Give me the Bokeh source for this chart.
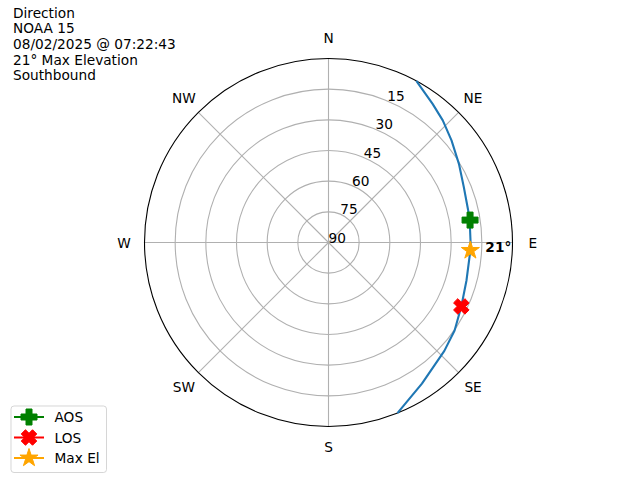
import numpy as np
from bokeh.plotting import figure
from bokeh.models import Range1d, Quad
from bokeh.embed import file_html
from bokeh.resources import INLINE
from bokeh.core.properties import value

# ---------------- data (azimuth deg clockwise from N, elevation deg) -------------
track_az = [28.5, 36.9, 43.1, 50.3, 58.9, 67.8, 77.1, 81.0, 90.0, 93.2, 105.4, 115.7, 124.9, 133.1, 146.5, 158.0]
track_el = [0.0, 5.2, 8.2, 11.8, 15.5, 18.5, 19.9, 20.1, 20.5, 20.5, 20.0, 17.9, 14.8, 12.4, 7.2, 0.0]

aos_az = [81.0]
aos_el = [19.9]
los_az = [115.7]
los_el = [17.9]
max_az = [93.2]
max_el = [20.5]
max_el_label = ["21°"]

ring_el = [75, 60, 45, 30, 15]
ring_label_el = [15, 30, 45, 60, 75, 90]
ring_labels = ["15", "30", "45", "60", "75", "90"]

compass_az = [0, 45, 90, 135, 180, 225, 270, 315]
compass_labels = ["N", "NE", "E", "SE", "S", "SW", "W", "NW"]

title_lines = ["Direction", "NOAA 15", "08/02/2025 @ 07:22:43",
               "21° Max Elevation", "Southbound"]
legend_labels = ["AOS", "LOS", "Max El"]
legend_colors = ["green", "red", "orange"]

# ---------------- helpers ----------------
def to_xy(az, el):
    """Polar (zenith-centred) projection: radius = 90 - elevation."""
    r = 90.0 - np.asarray(el, dtype=float)
    a = np.radians(np.asarray(az, dtype=float))
    return r * np.sin(a), r * np.cos(a)

W, H = 640, 480
CX, CY = 328, 242          # centre of polar plot in figure pixels
S = 184.0 / 90.0           # pixels per degree

x0, x1 = -CX / S, (W - CX) / S
y0, y1 = -(H - CY) / S, CY / S

def px(xp, yp):
    """figure pixel -> data coordinates"""
    return x0 + xp / S, y1 - yp / S

FONT = "DejaVu Sans"
FS = "13.7px"
GRID = "#b0b0b0"

p = figure(width=W, height=H, x_range=Range1d(x0, x1), y_range=Range1d(y0, y1),
           output_backend="svg", toolbar_location=None,
           x_axis_location=None, y_axis_location=None, min_border=0)
p.outline_line_color = None
p.background_fill_color = "white"
p.border_fill_color = "white"
p.grid.visible = False

# grid rings
ring_r = [90 - e for e in ring_el]
p.circle(x=[0] * len(ring_r), y=[0] * len(ring_r), radius=ring_r,
         fill_color=None, line_color=GRID, line_width=1.1)

# spokes
sx, sy = to_xy(compass_az, [0] * len(compass_az))
p.segment(x0=[0] * len(sx), y0=[0] * len(sy), x1=sx, y1=sy, line_color=GRID, line_width=1.1)

# outer circle
p.circle(x=[0], y=[0], radius=[90], fill_color=None, line_color="black", line_width=1.1)

# radial labels at 22.5 deg
lx, ly = to_xy([22.5] * len(ring_label_el), ring_label_el)
p.text(x=lx, y=ly, text=ring_labels, text_font=value(FONT), text_font_size=FS,
       text_align="left", text_baseline="bottom", text_color="black")

# compass labels
cx_, cy_ = to_xy(compass_az, [-10] * len(compass_az))
p.text(x=cx_, y=cy_, text=compass_labels, text_font=value(FONT), text_font_size=FS,
       text_align="center", text_baseline="middle", text_color="black")

# track
tx, ty = to_xy(track_az, track_el)
p.line(x=tx, y=ty, line_color="#1f77b4", line_width=2.1)

# markers
ax_, ay_ = to_xy(aos_az, aos_el)
lx_, ly_ = to_xy(los_az, los_el)
mx_, my_ = to_xy(max_az, max_el)

MK = [dict(marker="plus", size=16, angle=0.0),
      dict(marker="plus", size=16, angle=np.pi / 4),
      dict(marker="star", size=19, angle=0.0)]

p.scatter(x=ax_, y=ay_, color=legend_colors[0], **MK[0])
p.scatter(x=lx_, y=ly_, color=legend_colors[1], **MK[1])
p.scatter(x=mx_, y=my_, color=legend_colors[2], **MK[2])

# max elevation label
p.text(x=mx_, y=my_, text=max_el_label, x_offset=15, y_offset=-3,
       text_font=value(FONT), text_font_size=FS, text_font_style="bold",
       text_align="left", text_baseline="middle", text_color="black")

# title block
tl_x, tl_y = [], []
for i in range(len(title_lines)):
    xx, yy = px(12.5, 4 + i * 15.7)
    tl_x.append(xx)
    tl_y.append(yy)
p.text(x=tl_x, y=tl_y, text=title_lines, text_font=value(FONT), text_font_size=FS,
       text_align="left", text_baseline="top", text_color="black")

# legend (drawn manually so markers keep their plot size)
bl, bt = px(10.5, 405.5)
br, bb = px(106, 472)
quad_kw = dict(left=[bl], right=[br], top=[bt], bottom=[bb],
               fill_color="white", fill_alpha=0.8,
               line_color="#cccccc", line_alpha=0.8, line_width=1)
if "border_radius" in Quad.properties():
    quad_kw["border_radius"] = 3
p.quad(**quad_kw)

rows_y = [416.5, 437.0, 457.5]
for i in range(len(legend_labels)):
    xa, ya = px(13.5, rows_y[i])
    xb, _ = px(43.5, rows_y[i])
    xm, _ = px(28.5, rows_y[i])
    xt, _ = px(54, rows_y[i])
    p.line(x=[xa, xb], y=[ya, ya], line_color=legend_colors[i], line_width=2.1)
    p.scatter(x=[xm], y=[ya], color=legend_colors[i], **MK[i])
    p.text(x=[xt], y=[ya], text=[legend_labels[i]], text_font=value(FONT), text_font_size=FS,
           text_align="left", text_baseline="middle", text_color="black")

open("out.html", "w").write(file_html(p, INLINE))
